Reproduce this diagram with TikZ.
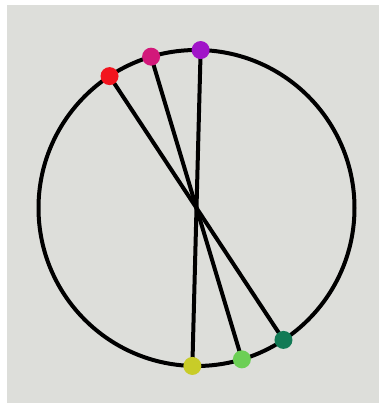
\documentclass[tikz,border=0pt]{standalone}
\usetikzlibrary{backgrounds,calc}
\definecolor{bggray}{RGB}{221,222,218}
\definecolor{cred}{RGB}{242,20,30}
\definecolor{cmag}{RGB}{210,24,122}
\definecolor{cpur}{RGB}{160,20,200}
\definecolor{cdgreen}{RGB}{18,122,85}
\definecolor{clgreen}{RGB}{108,207,85}
\definecolor{colive}{RGB}{200,204,40}
\begin{document}
\begin{tikzpicture}[x=1pt,y=-1pt,
  dot/.style={circle,inner sep=0pt,minimum size=18pt,fill=#1},
  chord/.style={line width=4pt,black},
  ring/.style={line width=4pt,black}]
\useasboundingbox (0,0) rectangle (381,405);
\coordinate (c) at (196.5,208);
\node[dot=cred] (red) at ($(c)+(-123.4:158)$) {};
\node[dot=cmag] (mag) at ($(c)+(-106.7:158)$) {};
\node[dot=cpur] (pur) at ($(c)+(-88.5:158)$) {};
\node[dot=cdgreen] (dgr) at ($(c)+(56.6:158)$) {};
\node[dot=clgreen] (lgr) at ($(c)+(73.3:158)$) {};
\node[dot=colive] (oli) at ($(c)+(91.5:158)$) {};
\begin{pgfonlayer}{background}
\fill[white] (0,0) rectangle (381,405);
\fill[bggray] (7,5) rectangle (379,403);
\draw[ring] (c) circle (158);
\draw[chord] (red.center) -- (dgr.center);
\draw[chord] (mag.center) -- (lgr.center);
\draw[chord] (pur.center) -- (oli.center);
\end{pgfonlayer}
\end{tikzpicture}
\end{document}
